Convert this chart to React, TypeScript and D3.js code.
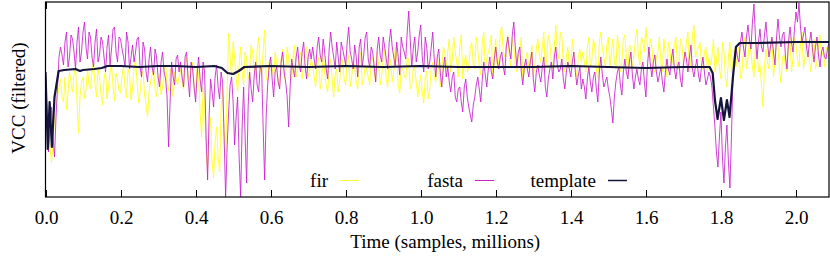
import { useEffect, useRef } from 'react'
import * as d3 from 'd3'

// time axis: samples, in millions
const T_END = 2.088
const xTicks = [0, 0.2, 0.4, 0.6, 0.8, 1.0, 1.2, 1.4, 1.6, 1.8, 2.0]

// filtered VCC, arbitrary units. Main samples are evenly spaced over [0, T_END];
// the *Mid arrays are the samples that sit halfway between two main ones.
const firValues = [
  125, 70, 34, 80, 100,
  118, 95, 87, 125, 105, 130, 64, 115, 98, 128,
  108, 135, 100, 120, 92, 126, 110, 132, 96, 118,
  104, 130, 99, 122, 108, 137, 94, 120, 102, 80,
  115, 128, 100, 124, 110, 132, 106, 118, 125, 112,
  128, 108, 140, 115, 135, 100, 122, 60, 95, 27,
  80, 19, 70, 25, 110, 40, 164, 120, 140, 105,
  150, 112, 138, 125, 145, 118, 160, 122, 167, 115,
  140, 120, 135, 110, 148, 125, 138, 118, 152, 128, 145, 132, 150, 126,
  132, 110, 140, 118, 125, 105, 138, 100, 128, 115,
  135, 112, 142, 120, 130, 108, 145, 118, 128, 112,
  140, 115, 132, 122, 148, 110, 135, 125, 142, 104,
  128, 118, 138, 112, 130, 100, 122, 94, 126, 108,
  135, 115, 130, 120, 145,
  145, 125, 160, 135, 150, 118, 142, 130, 155, 128,
  148, 122, 165, 138, 150, 120, 158, 135, 170, 140,
  162, 130, 150, 125, 145, 118, 138, 128, 152, 132,
  158, 135, 165, 140, 155, 128, 172, 138, 160, 125,
  150, 132, 145, 120, 148,
  145, 125, 160, 138, 150, 118, 165, 140, 152, 130,
  158, 128, 148, 135, 162, 122, 150, 140, 168, 132,
  155, 170, 140, 150, 125, 145, 135, 158, 120, 148,
  138, 160, 130, 152, 142, 165, 135, 172, 145, 155,
  128, 150, 140,
  140, 125, 150, 118, 145, 110, 155, 135,
  130, 150, 125, 160, 138, 145, 120, 155, 132, 90,
  148, 128, 158, 135, 150, 114, 142, 125, 160, 138,
  152, 130, 165, 140, 148, 125, 158, 135, 162, 145,
  150, 140,
]
const firMid = [
  90, 50, 55, 92, 110,
  100, 120, 105, 115, 122, 95, 100, 120, 108, 112,
  125, 112, 128, 102, 118, 98, 125, 110, 124, 106,
  122, 110, 128, 97, 130, 115, 105, 126, 92, 105,
  122, 108, 118, 102, 126, 114, 128, 100, 118, 120,
  115, 132, 122, 128, 112, 130, 85, 110, 45, 60,
  35, 55, 40, 90, 65, 105, 140, 155, 118, 132,
  125, 145, 118, 152, 128, 148, 130, 145, 120, 135,
  128, 145, 115, 138, 118, 150, 122, 142, 120, 140, 118, 148, 120, 138,
  120, 135, 108, 145, 112, 130, 118, 122, 105, 140,
  118, 138, 110, 135, 115, 140, 112, 132, 120, 138,
  125, 145, 112, 138, 118, 140, 115, 150, 112, 130,
  122, 140, 108, 128, 115, 112, 105, 120, 98, 130,
  120, 140, 110, 150, 128,
  158, 138, 145, 120, 162, 135, 125, 150, 132, 160,
  130, 155, 128, 145, 162, 140, 128, 165, 145, 150,
  140, 158, 132, 140, 160, 125, 145, 135, 120, 148,
  142, 150, 125, 162, 135, 150, 145, 165, 130, 140,
  128, 158, 130, 140, 135,
  135, 150, 130, 158, 128, 155, 148, 130, 160, 145,
  135, 162, 125, 158, 140, 152, 128, 158, 142, 160,
  145, 150, 158, 128, 140, 160, 125, 140, 155, 130,
  152, 128, 158, 135, 155, 125, 162, 140, 150, 132,
  145, 125, 132,
  158, 135, 128, 155, 120, 140, 125, 148,
  142, 118, 148, 128, 158, 130, 150, 125, 112, 130,
  135, 150, 120, 160, 128, 140, 130, 152, 125, 160,
  138, 155, 128, 158, 135, 150, 128, 150, 140, 130,
  145,
]

const fastaValues = [
  125, 45, 90, 40, 110,
  150, 132, 165, 140, 158, 128, 170, 145, 175, 138,
  160, 130, 168, 142, 155, 125, 162, 148, 170, 135,
  158, 140, 165, 128, 152, 145, 160, 120, 148, 115,
  150, 122, 140, 110, 145, 118, 50, 135, 112, 142,
  135, 110, 145, 100, 128, 95, 140, 105, 125, 17,
  118, 90, 132, 98, 115, 0, 85, 120, 52, 100,
  0, 110, 14, 125, 95, 135, 105, 128, 17, 112,
  140, 100, 130, 108, 145, 115, 70, 138, 120, 150, 125, 155, 118, 148,
  150, 128, 160, 135, 145, 118, 165, 140, 155, 125,
  148, 132, 170, 138, 152, 120, 158, 142, 165, 130,
  145, 115, 160, 135, 150, 128, 168, 140, 155, 122,
  150, 138, 186, 130, 160, 145, 172, 125, 150, 135,
  165, 120, 148, 110, 140,
  130, 105, 125, 95, 110, 85, 118, 90, 75, 100,
  120, 95, 135, 110, 140, 118, 150, 128, 145, 122,
  160, 138, 175, 130, 150, 112, 138, 120, 145, 105,
  132, 115, 140, 100, 128, 118, 150, 125, 138, 108,
  135, 120, 145, 112, 130,
  118, 98, 130, 105, 125, 95, 140, 110, 120, 100,
  74, 115, 130, 102, 138, 118, 145, 108, 128, 112,
  135, 100, 150, 120, 142, 115, 130, 105, 138, 122,
  148, 118, 135, 110, 145, 125, 152, 120, 138, 115,
  140, 112, 125,
  110, 70, 30, 85, 14, 72, 9, 120,
  150, 135, 165, 140, 172, 148, 193, 138, 168, 145,
  175, 140, 160, 132, 178, 150, 165, 128, 170, 145,
  185, 194, 155, 170, 140, 165, 135, 160, 130, 150,
  138, 155,
]
const fastaMid = [
  80, 70, 60, 80, 140,
  142, 155, 130, 162, 145, 155, 135, 165, 150, 165,
  140, 155, 135, 160, 140, 150, 132, 168, 145, 160,
  148, 130, 155, 140, 135, 158, 130, 155, 125, 138,
  130, 148, 120, 135, 125, 100, 95, 120, 138, 125,
  120, 140, 118, 135, 110, 122, 118, 135, 60, 80,
  105, 120, 110, 125, 60, 50, 112, 95, 80, 40,
  70, 60, 90, 108, 120, 112, 130, 70, 80, 130,
  118, 125, 115, 135, 125, 100, 110, 128, 140, 132, 145, 130, 140, 138,
  138, 150, 142, 158, 128, 148, 150, 128, 140, 155,
  140, 155, 145, 128, 140, 150, 130, 160, 138, 150,
  130, 148, 142, 160, 138, 155, 150, 130, 140, 160,
  145, 165, 158, 148, 135, 162, 140, 160, 128, 150,
  138, 140, 125, 128, 120,
  115, 120, 100, 108, 95, 110, 100, 82, 92, 112,
  108, 118, 122, 128, 125, 138, 135, 140, 130, 150,
  148, 162, 150, 145, 125, 130, 128, 135, 118, 125,
  122, 130, 110, 118, 135, 140, 132, 128, 118, 125,
  128, 135, 125, 122, 108,
  110, 118, 115, 120, 108, 125, 122, 115, 108, 88,
  100, 125, 112, 125, 125, 135, 122, 120, 118, 128,
  115, 130, 132, 135, 125, 122, 115, 125, 128, 138,
  128, 130, 118, 132, 138, 140, 128, 130, 122, 130,
  125, 118, 120,
  90, 45, 60, 40, 50, 35, 60, 140,
  140, 155, 150, 160, 158, 175, 160, 155, 150, 162,
  155, 150, 145, 158, 160, 162, 140, 155, 155, 168,
  175, 170, 162, 150, 155, 148, 150, 142, 145, 140,
  148,
]

const templateT = [
  0, 0.006, 0.011, 0.017, 0.024, 0.035, 0.05, 0.08, 0.092, 0.1, 0.13, 0.15,
  0.165, 0.2, 0.25, 0.3, 0.35, 0.4, 0.45, 0.47, 0.485, 0.5, 0.515, 0.53,
  0.6, 0.7, 0.8, 0.9, 1.0, 1.1, 1.2, 1.3, 1.4, 1.5, 1.6, 1.7, 1.77,
  1.778, 1.784, 1.791, 1.8, 1.808, 1.816, 1.823, 1.832, 1.84, 1.85,
  1.9, 2.0, 2.088,
]
const templateV = [
  125, 48, 95, 50, 100, 126, 127, 128, 126, 127, 128, 129,
  131, 131, 130, 131, 131, 130, 131, 129, 124, 123, 126, 130,
  131, 130, 131, 130, 131, 130, 130, 130, 131, 130, 129, 130, 130,
  124, 97, 78, 99, 77, 97, 80, 120, 150, 154,
  154, 155, 155,
]

const seriesNames = ['fir', 'fasta', 'template']
const seriesColors = ['#ffff33', '#c820cc', '#14143c']

export default function App() {
  const svgRef = useRef<SVGSVGElement>(null)

  useEffect(() => {
    if (!svgRef.current) return
    const svg = d3.select(svgRef.current)
    svg.selectAll('*').remove()

    const W = 830, H = 258
    const left = 45.5, right = 829, top = 2, bottom = 197
    const x = d3.scaleLinear().domain([0, T_END]).range([left, right])
    const y = d3.scaleLinear().domain([0, 195]).range([bottom, top])
    const font = '"Liberation Serif", "DejaVu Serif", serif'

    svg.attr('width', W).attr('height', H)

    svg.append('defs').append('clipPath').attr('id', 'plot')
      .append('rect').attr('x', left).attr('y', top)
      .attr('width', right - left).attr('height', bottom - top)

    const g = svg.append('g').attr('clip-path', 'url(#plot)')

    // main + halfway samples -> one evenly spaced series
    const series = (vals: number[], mids: number[]) => {
      const out: number[] = []
      vals.forEach((v, i) => {
        out.push(v)
        if (i < mids.length) out.push(mids[i])
      })
      return out.map((v, i) => [i * T_END / (out.length - 1), v] as [number, number])
    }
    const line = d3.line<[number, number]>().x((d) => x(d[0])).y((d) => y(d[1]))

    g.append('path').attr('d', line(series(firValues, firMid)))
      .attr('fill', 'none').attr('stroke', seriesColors[0]).attr('stroke-width', 1)
    g.append('path').attr('d', line(series(fastaValues, fastaMid)))
      .attr('fill', 'none').attr('stroke', seriesColors[1]).attr('stroke-width', 1)
      .attr('stroke-opacity', 0.85)
    g.append('path').attr('d', line(templateT.map((t, i) => [t, templateV[i]] as [number, number])))
      .attr('fill', 'none').attr('stroke', seriesColors[2]).attr('stroke-width', 2.2)
      .attr('stroke-linejoin', 'round')

    // frame
    svg.append('rect').attr('x', left).attr('y', top)
      .attr('width', right - left).attr('height', bottom - top)
      .attr('fill', 'none').attr('stroke', '#000').attr('stroke-width', 1.2)

    // ticks, mirrored on top, pointing in
    xTicks.forEach((t) => {
      const px = Math.round(x(t)) + 0.5
      svg.append('line').attr('x1', px).attr('x2', px).attr('y1', bottom).attr('y2', bottom - 7)
        .attr('stroke', '#000').attr('stroke-width', 1)
      svg.append('line').attr('x1', px).attr('x2', px).attr('y1', top).attr('y2', top + 7)
        .attr('stroke', '#000').attr('stroke-width', 1)
      svg.append('text').attr('x', px).attr('y', 224)
        .attr('text-anchor', 'middle').attr('font-family', font).attr('font-size', 19)
        .text(d3.format('.1f')(t))
    })

    svg.append('text').attr('x', (left + right) / 2 + 8).attr('y', 248)
      .attr('text-anchor', 'middle').attr('font-family', font).attr('font-size', 19)
      .text('Time (samples, millions)')

    svg.append('text').attr('transform', 'translate(25,98) rotate(-90)')
      .attr('text-anchor', 'middle').attr('font-family', font).attr('font-size', 19)
      .text('VCC (filtered)')

    // key
    const keyX = [328, 463, 596]
    seriesNames.forEach((name, i) => {
      svg.append('text').attr('x', keyX[i]).attr('y', 187)
        .attr('text-anchor', 'end').attr('font-family', font).attr('font-size', 19)
        .text(name)
      svg.append('line').attr('x1', keyX[i] + 12).attr('x2', keyX[i] + 31)
        .attr('y1', 180.5).attr('y2', 180.5)
        .attr('stroke', seriesColors[i]).attr('stroke-width', i === 2 ? 1.5 : 1)
    })
  }, [])

  return (
    <div style={{ position: 'absolute', left: 0, top: 0, width: 830, height: 258, background: '#fff' }}>
      <svg ref={svgRef} style={{ display: 'block' }} />
    </div>
  )
}
